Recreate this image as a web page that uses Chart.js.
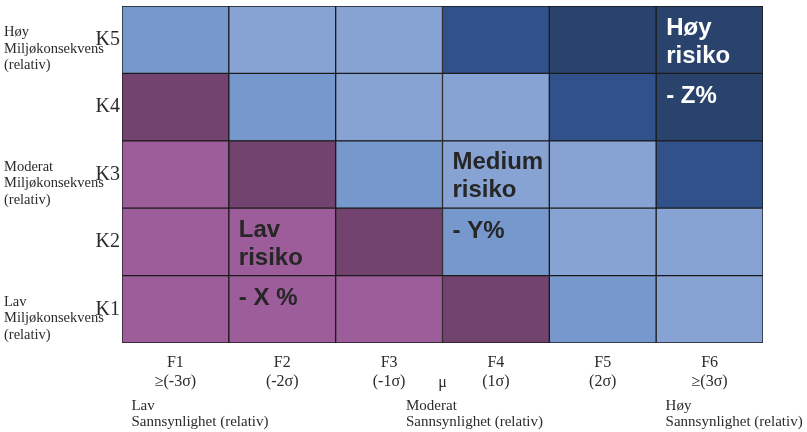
<!DOCTYPE html>
<html lang="no">
<head>
<meta charset="utf-8">
<title>Risikomatrise</title>
<script src="https://cdn.jsdelivr.net/npm/chart.js@4"></script>
<style>
    html, body { margin: 0; padding: 0; background: #ffffff; }
    #wrap { width: 807px; height: 432px; }
</style>
</head>
<body>
<div id="wrap"><canvas id="matrix" width="807" height="432"></canvas></div>
<script>
// kolonner: sannsynlighet F1..F6
const probLabels = [
    ['F1', '≥(-3σ)'],
    ['F2', '(-2σ)'],
    ['F3', '(-1σ)'],
    ['F4', '(1σ)'],
    ['F5', '(2σ)'],
    ['F6', '≥(3σ)']
];
// rader: konsekvens K1..K5 (nederst til øverst)
const consLabels = ['K1', 'K2', 'K3', 'K4', 'K5'];
const cellSpan = [1, 1, 1, 1, 1, 1];

// fargekode per celle, en liste per rad
const zoneK1 = [0, 0, 0, 1, 2, 3];
const zoneK2 = [0, 0, 1, 2, 3, 3];
const zoneK3 = [0, 1, 2, 3, 3, 4];
const zoneK4 = [1, 2, 3, 3, 4, 5];
const zoneK5 = [2, 3, 3, 4, 5, 5];
const zoneRows = [zoneK1, zoneK2, zoneK3, zoneK4, zoneK5];

const palette = ['#9d5c9a', '#72436f', '#7698cc', '#87a3d3', '#30518a', '#2a436d'];

const consGroups = [
    { row: 4, lines: ['Høy', 'Miljøkonsekvens', '(relativ)'] },
    { row: 2, lines: ['Moderat', 'Miljøkonsekvens', '(relativ)'] },
    { row: 0, lines: ['Lav', 'Miljøkonsekvens', '(relativ)'] }
];
const probGroups = [
    { at: 0, lines: ['Lav', 'Sannsynlighet (relativ)'] },
    { at: 2.57, lines: ['Moderat', 'Sannsynlighet (relativ)'] },
    { at: 5, lines: ['Høy', 'Sannsynlighet (relativ)'] }
];
const meanMark = { at: 2.5, text: 'μ' };

const zoneNotes = [
    { col: 1, row: 1, lines: ['Lav', 'risiko'], share: '- X %', color: '#262626' },
    { col: 3, row: 2, lines: ['Medium', 'risiko'], share: '- Y%', color: '#262626' },
    { col: 5, row: 4, lines: ['Høy', 'risiko'], share: '- Z%', color: '#ffffff' }
];

const serif = '"Liberation Serif", "Times New Roman", serif';

const datasets = consLabels.map((k, r) => ({
    label: k,
    data: cellSpan,
    backgroundColor: zoneRows[r].map(z => palette[z]),
    borderColor: '#1b1b1b',
    borderWidth: 1,
    borderSkipped: false,
    barPercentage: 1,
    categoryPercentage: 1
}));

const annotations = {
    id: 'annotations',
    afterDraw(chart) {
        const { ctx, scales: { x, y }, chartArea } = chart;
        const colWidth = x.getPixelForValue(1) - x.getPixelForValue(0);

        ctx.save();

        // tekst i sonene
        ctx.font = 'bold 24px "Liberation Sans", Arial, sans-serif';
        ctx.textBaseline = 'middle';
        ctx.textAlign = 'left';
        zoneNotes.forEach(n => {
            const left = x.getPixelForValue(n.col) - colWidth / 2 + 10;
            const top = y.getPixelForValue(n.row + 1);
            ctx.fillStyle = n.color;
            ctx.fillText(n.lines[0], left, top + 22);
            ctx.fillText(n.lines[1], left, top + 50);
            ctx.fillText(n.share, left, y.getPixelForValue(n.row) + 23);
        });

        // venstre gruppetekster
        ctx.font = '14.5px ' + serif;
        ctx.fillStyle = '#2b2b2b';
        consGroups.forEach(g => {
            const mid = y.getPixelForValue(g.row + 0.5) + 9;
            g.lines.forEach((line, i) => {
                ctx.fillText(line, 4, mid + (i - 1) * 16.5);
            });
        });

        // nedre gruppetekster
        ctx.font = '15px ' + serif;
        probGroups.forEach(g => {
            const left = x.getPixelForValue(g.at) - 44;
            g.lines.forEach((line, i) => {
                ctx.fillText(line, left, chartArea.bottom + 63 + i * 16);
            });
        });

        ctx.font = '16px ' + serif;
        ctx.textAlign = 'center';
        ctx.fillText(meanMark.text, x.getPixelForValue(meanMark.at), chartArea.bottom + 40);

        ctx.restore();
    }
};

new Chart(document.getElementById('matrix'), {
    type: 'bar',
    data: {
        labels: probLabels,
        datasets: datasets
    },
    options: {
        responsive: false,
        animation: false,
        events: [],
        layout: {
            padding: { top: 6, right: 44, left: 0, bottom: 0 }
        },
        plugins: {
            legend: { display: false },
            tooltip: { enabled: false }
        },
        scales: {
            x: {
                stacked: true,
                offset: true,
                grid: { display: false, drawTicks: false },
                border: { display: false },
                ticks: {
                    color: '#2b2b2b',
                    padding: 10,
                    font: { family: serif, size: 16, lineHeight: 1.2 },
                    maxRotation: 0
                },
                afterFit(scale) {
                    scale.height = 89;
                    scale.paddingLeft = 0;
                    scale.paddingRight = 0;
                }
            },
            y: {
                stacked: true,
                min: 0,
                max: 5,
                grid: { display: false, drawTicks: false },
                border: { display: false },
                afterBuildTicks(scale) {
                    scale.ticks = consLabels.map((_, i) => ({ value: i + 0.5 }));
                },
                ticks: {
                    color: '#2b2b2b',
                    padding: 2,
                    font: { family: serif, size: 20 },
                    callback: (value, index) => consLabels[index]
                },
                afterFit(scale) {
                    scale.width = 122;
                    scale.paddingTop = 0;
                    scale.paddingBottom = 0;
                }
            }
        }
    },
    plugins: [annotations]
});
</script>
</body>
</html>
